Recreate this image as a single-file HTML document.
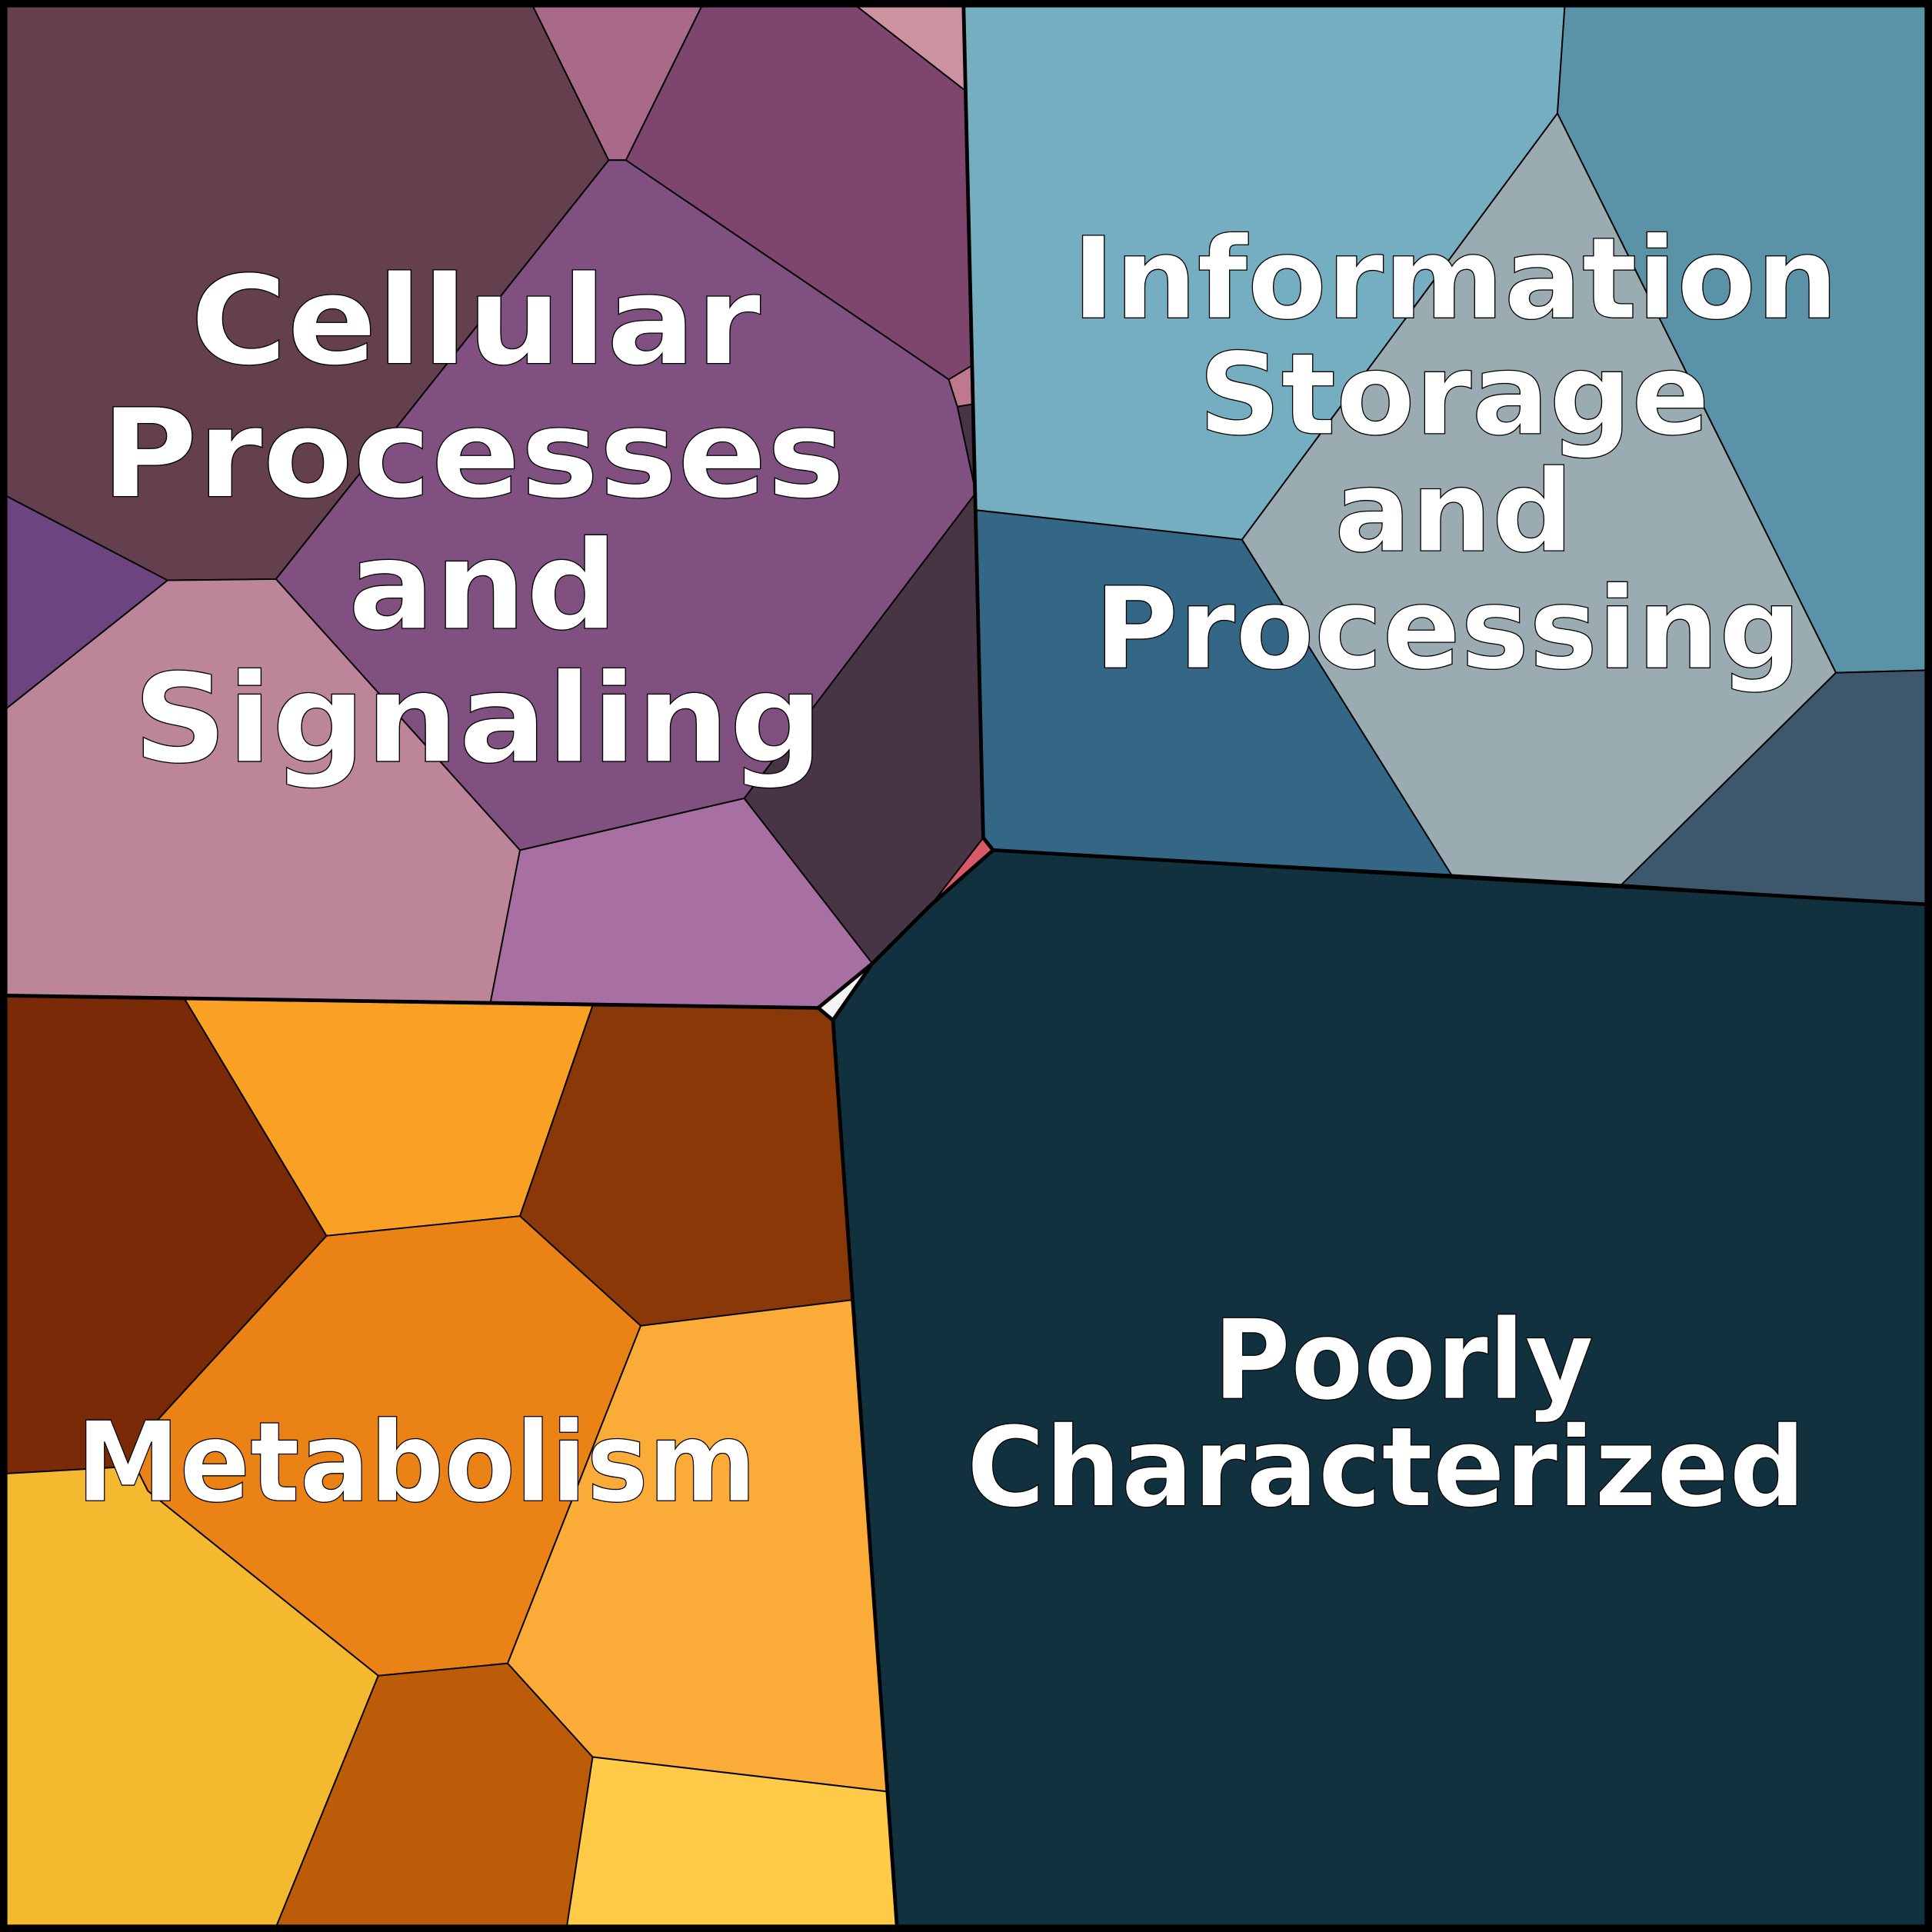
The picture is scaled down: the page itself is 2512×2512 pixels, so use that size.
<!DOCTYPE html>
<html><head><meta charset="utf-8"><style>html,body{margin:0;padding:0;background:#fff}svg{display:block}</style></head>
<body>
<svg width="2512" height="2512" viewBox="0 0 1568 1568" xmlns="http://www.w3.org/2000/svg">
<g stroke="#000" stroke-width="1.2" stroke-linejoin="round">
<polygon fill="#643F4E" points="4,4 432,4 494,130 224,470 136,471 4,402"/>
<polygon fill="#A86A88" points="432,4 570,4 508,130 494,130"/>
<polygon fill="#7E456E" points="570,4 694,4 784,74 790,296 770,308 508,130"/>
<polygon fill="#CD929F" points="694,4 782,4 784,74"/>
<polygon fill="#805080" points="494,130 508,130 770,308 777,330 792,400 604,648 422,690 224,470"/>
<polygon fill="#C07890" points="770,308 790,296 790,328 777,330"/>
<polygon fill="#473444" points="777,330 790,328 792,400"/>
<polygon fill="#473444" points="792,400 798,680 756,734 708,782 604,648"/>
<polygon fill="#6C4580" points="4,402 136,471 4,576"/>
<polygon fill="#BC859A" points="4,576 136,471 224,470 422,690 398,814 4,808"/>
<polygon fill="#A86FA2" points="422,690 604,648 708,782 664,818 398,814"/>
<polygon fill="#D85A68" points="798,680 806,690 756,734"/>
<polygon fill="#F4F4F4" points="708,782 664,818 676,828"/>
<polygon fill="#75AEC0" points="782,4 1270,4 1264,92 1008,438 792,414"/>
<polygon fill="#5A93A8" points="1270,4 1564,4 1564,544 1490,546 1264,92"/>
<polygon fill="#9AACB1" points="1264,92 1490,546 1316,718 1178,710 1008,438"/>
<polygon fill="#346686" points="792,414 1008,438 1178,710 806,690 798,680"/>
<polygon fill="#3D586C" points="1490,546 1564,544 1564,734 1316,718"/>
<polygon fill="#12313F" points="806,690 1564,734 1564,1564 728,1564 676,828 708,782 756,734"/>
<polygon fill="#7A2A06" points="4,808 150,811 265,1003 110,1172 110,1190 4,1196"/>
<polygon fill="#FAA025" points="150,811 481,816 422,987 265,1003"/>
<polygon fill="#8A3808" points="481,816 664,818 676,828 692,1055 520,1076 422,987"/>
<polygon fill="#EA8216" points="265,1003 422,987 520,1076 412,1350 307,1360 120,1210 110,1190 110,1172"/>
<polygon fill="#FBAB38" points="520,1076 692,1055 720,1454 481,1426 412,1350"/>
<polygon fill="#F4B92F" points="4,1196 110,1190 120,1210 307,1360 224,1564 4,1564"/>
<polygon fill="#BC5B08" points="307,1360 412,1350 481,1426 460,1564 224,1564"/>
<polygon fill="#FECA47" points="481,1426 720,1454 728,1564 460,1564"/>
</g>
<g fill="none" stroke="#000" stroke-width="3" stroke-linejoin="round">
<polyline points="4,808 398,814 664,818 676,828 708,782 756,734 806,690 798,680 782,4"/>
<polyline points="806,690 1564,734"/>
<polyline points="676,828 728,1564"/>
<polyline points="664,818 708,782"/>
</g>
<rect x="3" y="3" width="1562" height="1562" fill="none" stroke="#000" stroke-width="6"/>
<g font-family="'DejaVu Sans','Liberation Sans',sans-serif" font-weight="bold" fill="#fff" stroke="#000" stroke-width="0.8" text-anchor="middle" lengthAdjust="spacingAndGlyphs">
<text x="386" y="295" font-size="100" textLength="463" lengthAdjust="spacingAndGlyphs">Cellular</text>
<text x="384" y="403" font-size="100" textLength="604" lengthAdjust="spacingAndGlyphs">Processes</text>
<text x="392" y="510" font-size="100" textLength="219" lengthAdjust="spacingAndGlyphs">and</text>
<text x="388" y="618" font-size="100" textLength="560" lengthAdjust="spacingAndGlyphs">Signaling</text>
<text x="1181" y="258" font-size="92" textLength="622" lengthAdjust="spacingAndGlyphs">Information</text>
<text x="1180" y="352" font-size="92" textLength="415" lengthAdjust="spacingAndGlyphs">Storage</text>
<text x="1180" y="447" font-size="92" textLength="194" lengthAdjust="spacingAndGlyphs">and</text>
<text x="1175" y="542" font-size="92" textLength="574" lengthAdjust="spacingAndGlyphs">Processing</text>
<text x="338" y="1218" font-size="90" textLength="552" lengthAdjust="spacingAndGlyphs">Metabolism</text>
<text x="1139" y="1135" font-size="90" textLength="309" lengthAdjust="spacingAndGlyphs">Poorly</text>
<text x="1125" y="1222" font-size="90" textLength="681" lengthAdjust="spacingAndGlyphs">Characterized</text>
</g>
</svg>
</body></html>
